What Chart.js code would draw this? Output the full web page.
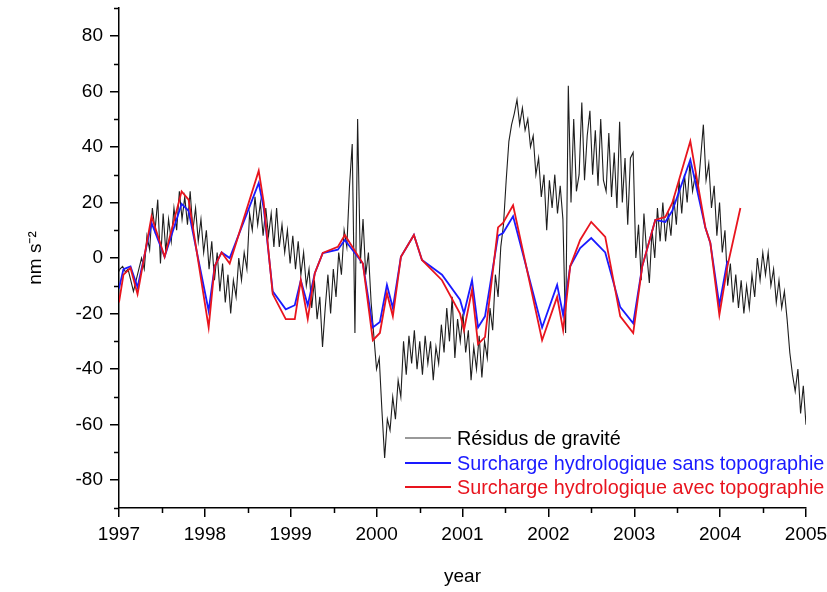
<!DOCTYPE html>
<html><head><meta charset="utf-8">
<script src="https://cdn.jsdelivr.net/npm/chart.js@4/dist/chart.umd.min.js"></script>
<style>
html,body{margin:0;padding:0;background:#fff;}
#wrap{position:relative;width:827px;height:592px;overflow:hidden;}
canvas{position:absolute;left:0;top:0;}
#legend{position:absolute;left:405px;top:426px;font-family:"Liberation Sans",Arial,sans-serif;font-size:19.8px;line-height:24.5px;}
.row{display:flex;align-items:center;white-space:nowrap;height:24.5px;}
.sw{width:46px;height:0;margin-right:6px;}
</style></head><body>
<div id="wrap"><canvas id="c" width="827" height="592" style="width:827px;height:592px"></canvas>
<div id="legend">
<div class="row"><span class="sw" style="border-top:2px solid #999"></span><span style="color:#000">Résidus de gravité</span></div>
<div class="row"><span class="sw" style="border-top:2px solid #1a1aff"></span><span style="color:#1a1aff">Surcharge hydrologique sans topographie</span></div>
<div class="row"><span class="sw" style="border-top:2px solid #e8141e"></span><span style="color:#e8141e">Surcharge hydrologique avec topographie</span></div>
</div></div>
<script>
// Tick labels
const yearTicks = [1997, 1998, 1999, 2000, 2001, 2002, 2003, 2004, 2005];
const yearMinorTicks = [1997.5, 1998.5, 1999.5, 2000.5, 2001.5, 2002.5, 2003.5, 2004.5];
const valueTicks = [-80, -60, -40, -20, 0, 20, 40, 60, 80];
const valueMinorTicks = [-90, -70, -50, -30, -10, 10, 30, 50, 70, 90];

// Hydrological loading, with topography (red)
const redYears = [1997.000, 1997.052, 1997.134, 1997.216, 1997.379, 1997.531, 1997.729, 1997.810,
  1998.044, 1998.114, 1998.195, 1998.289, 1998.627, 1998.685, 1998.790, 1998.942,
  1999.047, 1999.117, 1999.198, 1999.280, 1999.373, 1999.548, 1999.630, 1999.840, 1999.956,
  2000.038, 2000.120, 2000.189, 2000.283, 2000.434, 2000.528, 2000.761, 2000.971,
  2001.017, 2001.111, 2001.181, 2001.262, 2001.414, 2001.472, 2001.589, 2001.927,
  2002.102, 2002.172, 2002.254, 2002.370, 2002.499, 2002.662, 2002.837, 2002.988,
  2003.093, 2003.245, 2003.362, 2003.443, 2003.653, 2003.828, 2003.886, 2003.991,
  2004.085, 2004.236];
const redValues = [-16, -6, -3.6, -13, 15, 0.4, 24, 21,
  -25, -3, 2, -2, 31.4, 20, -13, -22,
  -22, -8, -22, -5.5, 1.8, 4, 8.3, -2, -29.6,
  -27, -12.6, -21, 0.4, 8.3, -0.7, -8, -20,
  -26, -11.5, -31, -28.5, 11, 12.6, 19, -29.6,
  -14, -26, -3, 6.5, 13, 7.6, -21, -27,
  -3, 13.7, 14.8, 19.8, 42, 11, 5.4, -20.5,
  -3, 18];

// Hydrological loading, without topography (blue)
const blueYears = [1997.000, 1997.052, 1997.134, 1997.216, 1997.379, 1997.531, 1997.729, 1997.810,
  1998.044, 1998.114, 1998.195, 1998.289, 1998.627, 1998.685, 1998.790, 1998.942,
  1999.047, 1999.117, 1999.198, 1999.280, 1999.373, 1999.548, 1999.630, 1999.840, 1999.956,
  2000.038, 2000.120, 2000.189, 2000.283, 2000.434, 2000.528, 2000.761, 2000.971,
  2001.017, 2001.111, 2001.181, 2001.262, 2001.414, 2001.472, 2001.589, 2001.927,
  2002.102, 2002.172, 2002.254, 2002.370, 2002.499, 2002.662, 2002.837, 2002.988,
  2003.093, 2003.245, 2003.362, 2003.443, 2003.653, 2003.828, 2003.886, 2003.991,
  2004.085];
const blueValues = [-11, -4, -3, -10.5, 12.6, 0.4, 19.5, 17,
  -19, -3, 2, 0, 27, 18, -12, -18.5,
  -17, -8, -17, -5.5, 1.8, 3, 6.5, -2, -25,
  -23, -9.7, -18, 0.4, 8.3, -0.7, -6, -15,
  -20, -8, -25, -21, 8, 9, 15, -25,
  -9.7, -20.6, -3, 3.6, 7.2, 2, -17.7, -23.5,
  -3, 13.7, 13, 17, 35.4, 11, 5.4, -17,
  -1];

// Gravity residuals (black), uniformly sampled from residualStart to residualEnd
const residualStart = 1996.948;
const residualEnd = 2005.0;
const residualValues = [
  -10, -6, -4, -3, -5, -4, -8, -12, -8, -4, 0, -4, 8, 3, 18, 10, 21, -2, 16, 2, 14, 6, 18, 10, 24, 14, 22, 12, 24, 10, 18, 6,
  14, 2, 10, -4, 6, -8, 2, -12, -2, -16, -6, -20, -8, -14, 0, -8, 2, -4, 16, 10, 22, 12, 20, 8, 18, 8, 16, 4, 18, 4, 12, 2,
  10, -2, 8, -4, 6, -6, 2, -10, -4, -18, -8, -22, -14, -32, -18, -6, -20, -4, -14, 2, -6, 10, 4, 26, 41, -27, 50, -2, 14, -6, 2, -16,
  -28, -40, -36, -55, -72, -58, -62, -50, -58, -44, -50, -30, -42, -28, -38, -26, -40, -30, -42, -28, -38, -30, -44, -32, -38, -24, -34, -18, -30, -14, -36, -22,
  -30, -20, -34, -26, -44, -32, -40, -28, -43, -30, -36, -18, -26, -6, -14, 4, 12, 28, 42, 48, 52, 57, 48, 54, 46, 50, 40, 44, 30, 36, 22, 30,
  10, 28, 18, 30, 16, 26, 14, -27, 62, 20, 50, 24, 30, 56, 28, 44, 53, 30, 46, 26, 50, 28, 24, 45, 22, 38, 18, 49, 20, 36, 12, 36,
  38, 0, 12, -8, 16, 2, -9, 10, 0, 18, 6, 20, 6, 16, 8, 22, 12, 28, 16, 30, 20, 34, 24, 30, 24, 36, 48, 28, 34, 18, 26, 8,
  20, 2, 10, -10, -2, -16, -6, -18, -8, -20, -10, -18, -6, -14, 0, -8, 2, -6, 2, -10, -4, -16, -8, -18, -12, -22, -34, -42, -48, -40, -56, -46, -60
];

const residualStep = (residualEnd - residualStart) / (residualValues.length - 1);
const residualPts = residualValues.map((v, i) => ({x: residualStart + i * residualStep, y: v}));
const redPts = redYears.map((t, i) => ({x: t, y: redValues[i]}));
const bluePts = blueYears.map((t, i) => ({x: t, y: blueValues[i]}));

const FONT = '"Liberation Sans", Arial, sans-serif';

const minorTicks = {
  id: 'minorTicks',
  afterDraw(chart) {
    const {ctx, chartArea, scales: {x, y}} = chart;
    ctx.save();
    ctx.strokeStyle = '#000';
    ctx.lineWidth = 1.5;
    ctx.beginPath();
    valueMinorTicks.forEach(v => {
      const py = Math.round(y.getPixelForValue(v)) + 0.5;
      ctx.moveTo(chartArea.left, py);
      ctx.lineTo(chartArea.left - 5, py);
    });
    yearMinorTicks.forEach(v => {
      const px = Math.round(x.getPixelForValue(v)) + 0.5;
      ctx.moveTo(px, chartArea.bottom);
      ctx.lineTo(px, chartArea.bottom + 5);
    });
    ctx.stroke();
    ctx.restore();
  }
};

new Chart(document.getElementById('c'), {
  type: 'line',
  data: {
    datasets: [
      {label: 'Surcharge hydrologique avec topographie', data: redPts, borderColor: '#e8141e', borderWidth: 1.8, order: 0},
      {label: 'Surcharge hydrologique sans topographie', data: bluePts, borderColor: '#1a1aff', borderWidth: 1.8, order: 1},
      {label: 'Résidus de gravité', data: residualPts, borderColor: '#1e1e1e', borderWidth: 1.1, order: 2}
    ]
  },
  options: {
    responsive: false,
    animation: false,
    parsing: false,
    elements: {point: {radius: 0}, line: {tension: 0}},
    layout: {padding: {top: 8, right: 21, left: 0, bottom: 0}},
    plugins: {legend: {display: false}, tooltip: {enabled: false}},
    scales: {
      x: {
        type: 'linear', min: 1997, max: 2005,
        afterBuildTicks: s => { s.ticks = yearTicks.map(v => ({value: v})); },
        afterFit: s => { s.height = 84; s.paddingLeft = 0; s.paddingRight = 0; },
        ticks: {callback: v => String(v), color: '#000', font: {family: FONT, size: 19}, padding: 6, maxRotation: 0, autoSkip: false},
        grid: {drawOnChartArea: false, drawTicks: true, tickLength: 9, tickColor: '#000', lineWidth: 1.5},
        border: {display: true, color: '#000', width: 1.5},
        title: {display: true, text: 'year', color: '#000', font: {family: FONT, size: 19}, padding: {top: 0, bottom: 4}}
      },
      y: {
        type: 'linear', min: -90, max: 90,
        afterBuildTicks: s => { s.ticks = valueTicks.map(v => ({value: v})); },
        afterFit: s => { s.width = 119; s.paddingTop = 0; s.paddingBottom = 0; },
        ticks: {callback: v => String(v), color: '#000', font: {family: FONT, size: 19}, padding: 7},
        grid: {drawOnChartArea: false, drawTicks: true, tickLength: 9, tickColor: '#000', lineWidth: 1.5},
        border: {display: true, color: '#000', width: 1.5},
        title: {display: true, text: 'nm s\u207B\u00B2', color: '#000', font: {family: FONT, size: 19}, padding: {top: 24, bottom: 0}}
      }
    }
  },
  plugins: [minorTicks]
});
</script>
</body></html>
